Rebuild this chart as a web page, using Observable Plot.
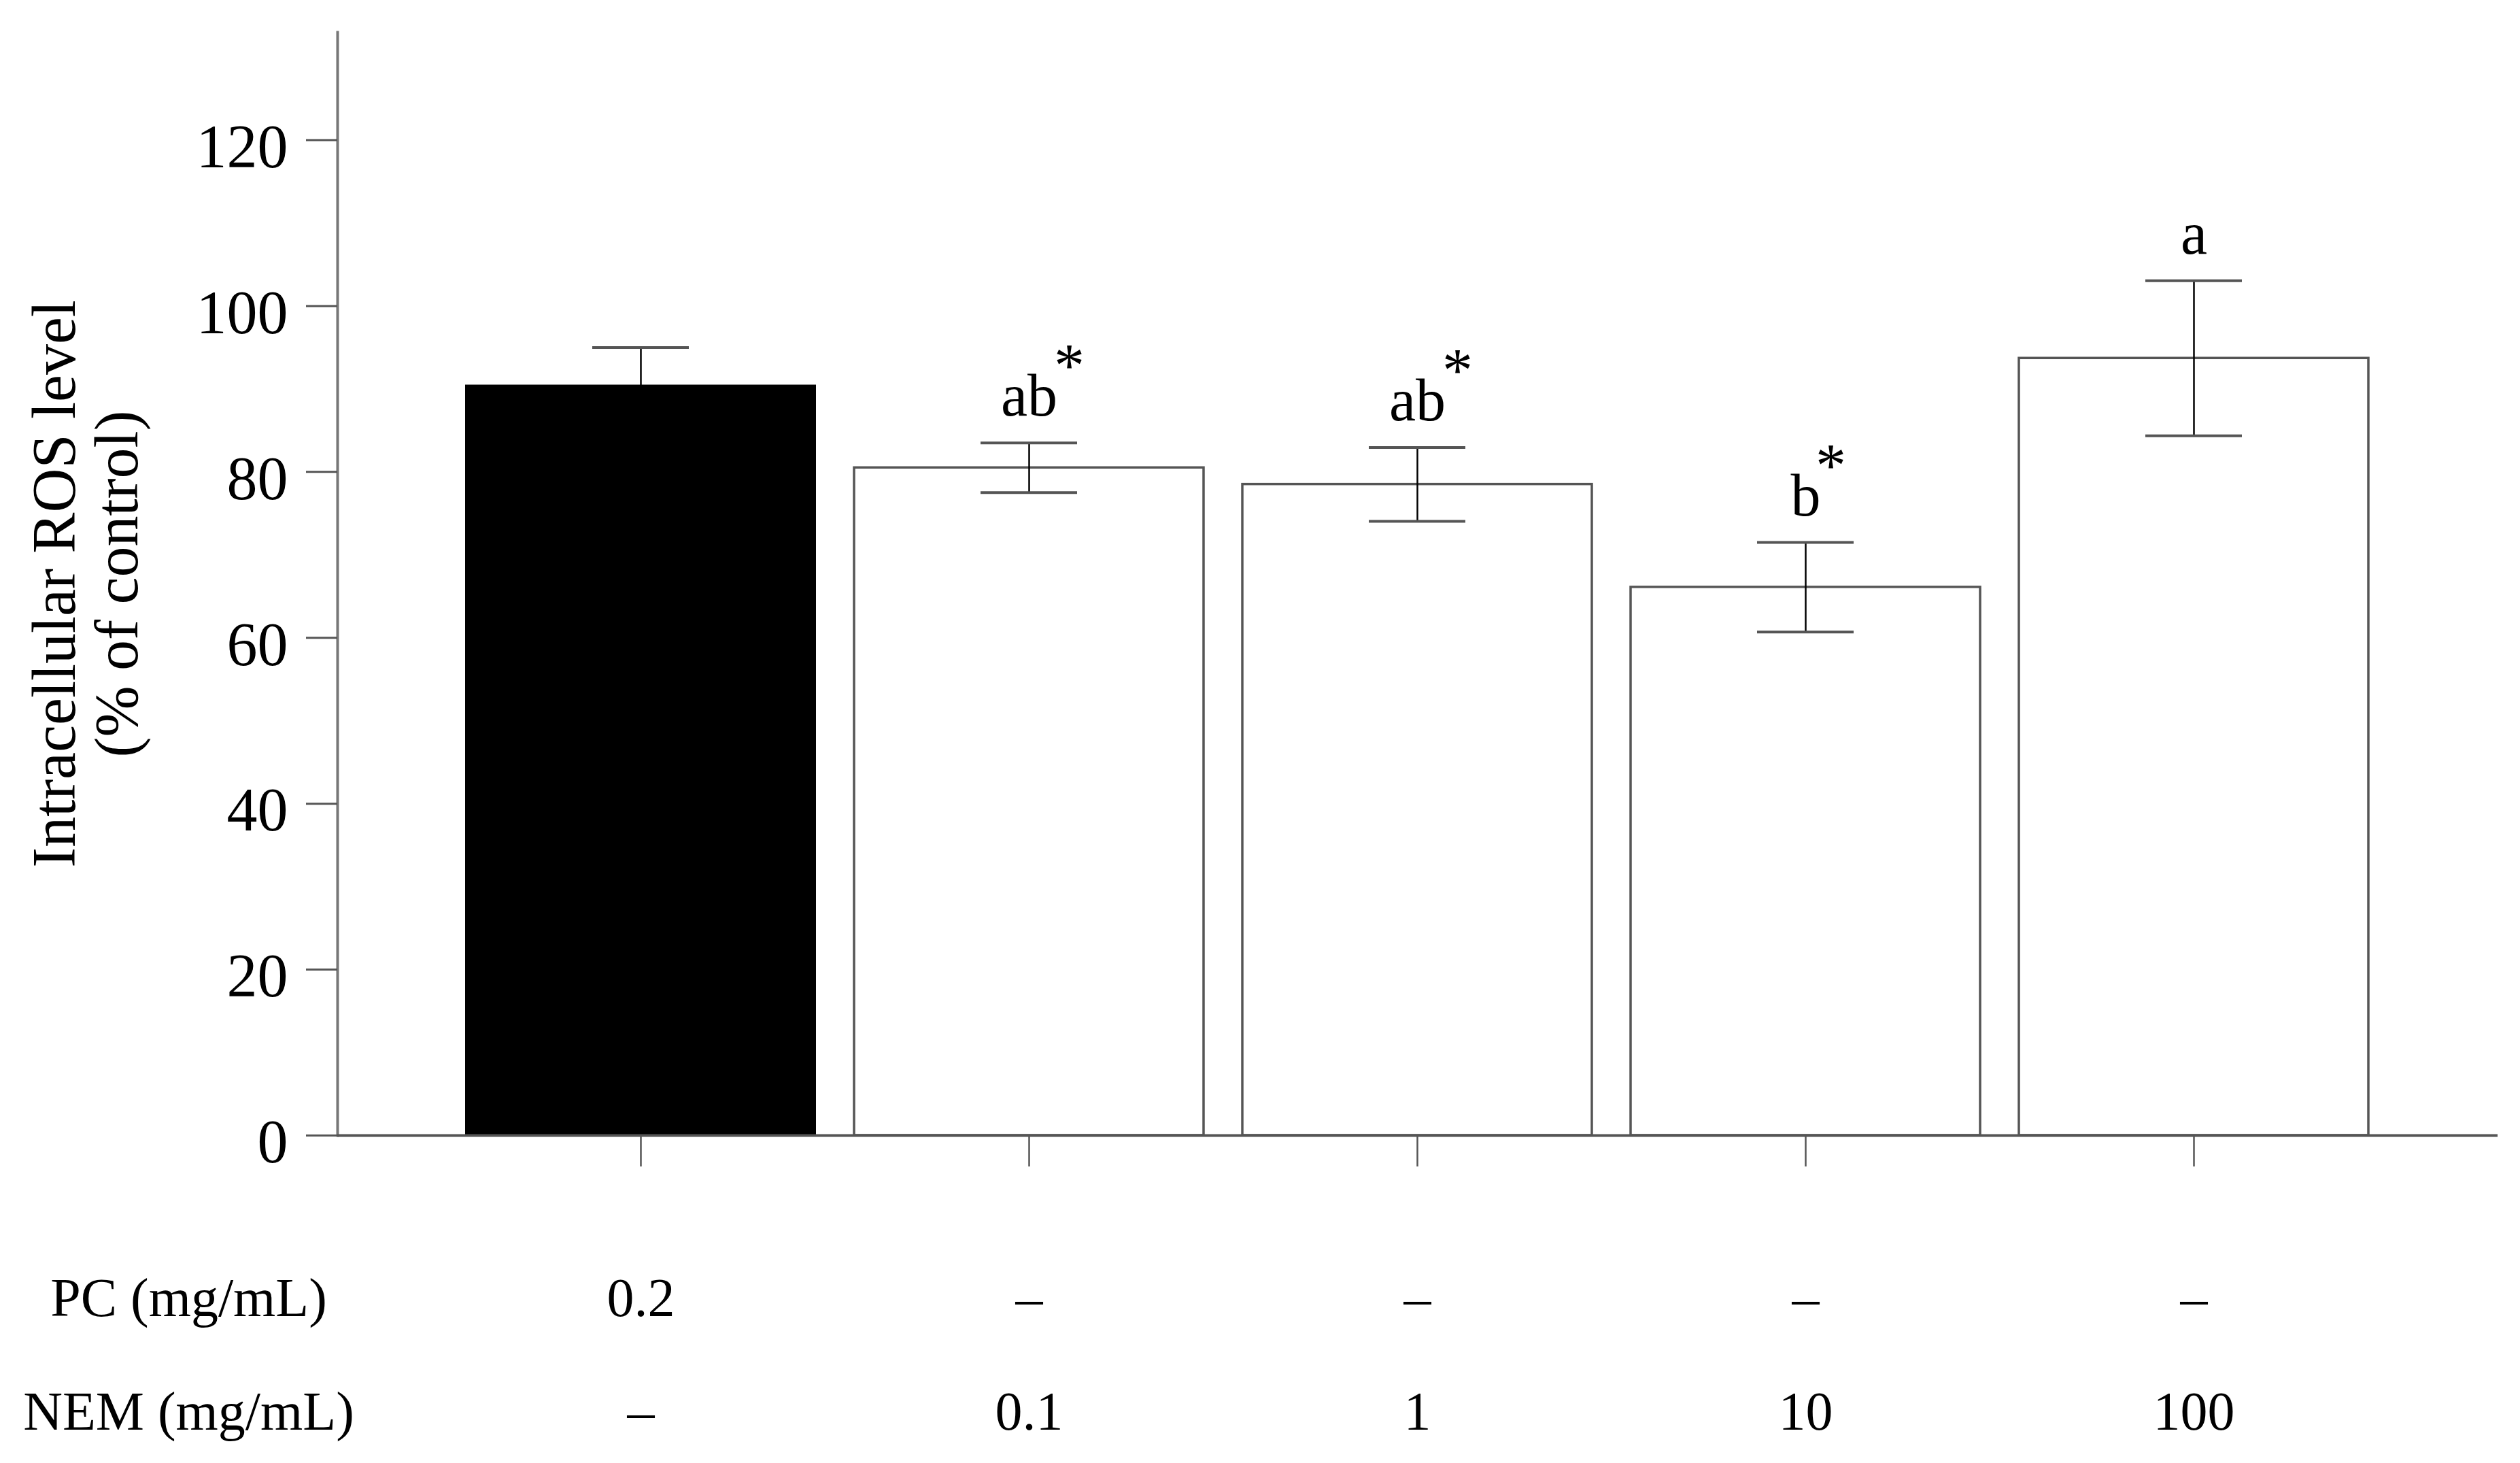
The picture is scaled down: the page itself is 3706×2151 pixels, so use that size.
<!DOCTYPE html>
<html><head><meta charset="utf-8">
<script src="https://cdn.jsdelivr.net/npm/d3@7"></script>
<script src="https://cdn.jsdelivr.net/npm/@observablehq/plot@0.6"></script>
<style>html,body{margin:0;padding:0;background:#fff;}</style>
</head><body><div id="chart"></div>
<script>
const groups = ["PC 0.2", "NEM 0.1", "NEM 1", "NEM 10", "NEM 100"];
const means = [90.4, 80.5, 78.5, 66.1, 93.7];
const errors = [4.6, 3.0, 4.45, 5.4, 9.35];
const pcLabels = ["0.2", "–", "–", "–", "–"];
const nemLabels = ["–", "0.1", "1", "10", "100"];
const sigLetters = ["", "ab", "ab", "b", "a"];
const sigStars = [false, true, true, true, false];
const rowLabels = ["PC (mg/mL)", "NEM (mg/mL)"];
const yTicks = [0, 20, 40, 60, 80, 100, 120];
const yDomain = [0, 133];
const yLabel = "Intracellular ROS level\n(% of control)";

const data = groups.map((g, i) => ({
  group: g, mean: means[i], err: errors[i], pc: pcLabels[i], nem: nemLabels[i],
  letter: sigLetters[i], star: sigStars[i], control: pcLabels[i] !== "–"
}));
const ctrl = data.filter(d => d.control);
const rest = data.filter(d => !d.control);
const lettered = data.filter(d => d.letter);
const star2 = data.filter(d => d.star && d.letter.length === 2);
const star1 = data.filter(d => d.star && d.letter.length === 1);
const hi = d => d.mean + d.err;
const lo = d => d.mean - d.err;

const chart = Plot.plot({
  width: 3706,
  height: 2151,
  marginTop: 47,
  marginBottom: 482,
  marginLeft: 496,
  marginRight: 33,
  style: {fontFamily: "'Liberation Serif', 'Times New Roman', serif", background: "white", color: "black", overflow: "visible"},
  x: {type: "band", domain: groups, range: [683, 3484], paddingInner: 0.1, paddingOuter: 0},
  y: {domain: yDomain},
  marks: [
    Plot.barY(rest, {x: "group", y: "mean", fill: "white", stroke: "#555", strokeWidth: 3.5}),
    Plot.barY(ctrl, {x: "group", y: "mean", fill: "black", stroke: "black", strokeWidth: 2}),
    Plot.ruleX(data, {x: "group", y1: lo, y2: hi, stroke: "black", strokeWidth: 2.5}),
    Plot.tickY(data, {x: "group", y: hi, stroke: "#555", strokeWidth: 4, insetLeft: 186, insetRight: 186}),
    Plot.tickY(rest, {x: "group", y: lo, stroke: "#555", strokeWidth: 4, insetLeft: 186, insetRight: 186}),
    Plot.tickY(ctrl, {x: "group", y: lo, stroke: "black", strokeWidth: 4, insetLeft: 186, insetRight: 186}),
    Plot.text(lettered, {x: "group", y: hi, text: "letter", dy: -40, lineAnchor: "bottom", fontSize: 88}),
    Plot.text(star2, {x: "group", y: hi, text: () => "*", dx: 59, dy: -83, lineAnchor: "bottom", fontSize: 90}),
    Plot.text(star1, {x: "group", y: hi, text: () => "*", dx: 37, dy: -83, lineAnchor: "bottom", fontSize: 90}),
    Plot.frame({anchor: "left", stroke: "#777", strokeWidth: 4}),
    Plot.ruleY([0], {stroke: "#555", strokeWidth: 4}),
    Plot.axisY({ticks: yTicks, tickSize: 46, tickFormat: () => "", label: null, stroke: "#555", strokeWidth: 3}),
    Plot.text(yTicks, {y: d => d, frameAnchor: "left", text: d => String(d), dx: -73, dy: 11, textAnchor: "end", lineAnchor: "middle", fontSize: 90}),
    Plot.axisX({tickSize: 46, tickFormat: () => "", label: null, stroke: "#555", strokeWidth: 2.5}),
    Plot.text(data, {x: "group", frameAnchor: "bottom", text: "pc", dy: 240, lineAnchor: "middle", textAnchor: "middle", fontSize: 80}),
    Plot.text(data, {x: "group", frameAnchor: "bottom", text: "nem", dy: 407, lineAnchor: "middle", textAnchor: "middle", fontSize: 80}),
    Plot.text([rowLabels[0]], {frameAnchor: "bottom-left", text: d => d, dx: -219, dy: 240, lineAnchor: "middle", textAnchor: "middle", fontSize: 80}),
    Plot.text([rowLabels[1]], {frameAnchor: "bottom-left", text: d => d, dx: -219, dy: 407, lineAnchor: "middle", textAnchor: "middle", fontSize: 80}),
    Plot.text([yLabel], {frameAnchor: "left", text: d => d, rotate: -90, dx: -370, lineAnchor: "middle", textAnchor: "middle", fontSize: 90, lineHeight: 1.02})
  ]
});
document.getElementById("chart").appendChild(chart);
</script>
</body></html>
